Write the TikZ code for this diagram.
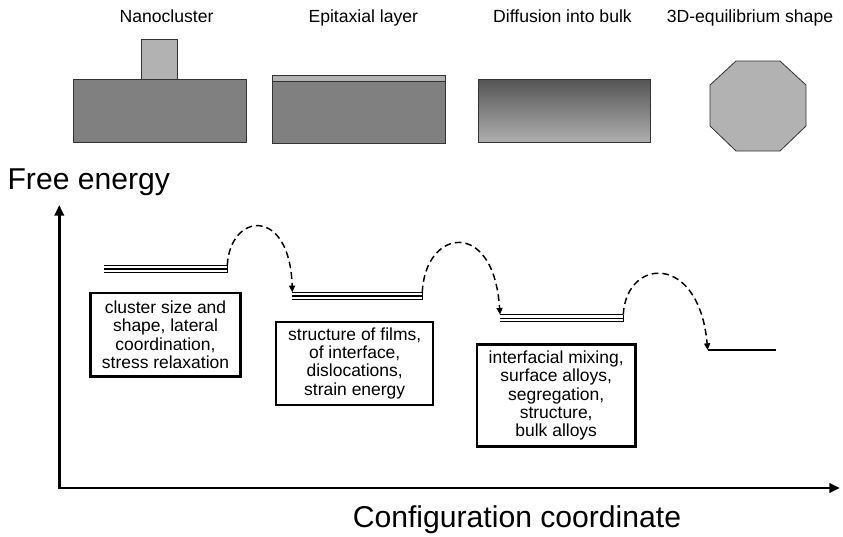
\documentclass[tikz,border=0pt]{standalone}
\usepackage{fontspec}
\setmainfont{Liberation Sans}
\usetikzlibrary{arrows.meta}

\begin{document}
\begin{tikzpicture}[x=.75pt,y=-.75pt,
  heading/.style={font=\fontsize{13.2}{14}\selectfont,anchor=base,inner sep=0pt},
  bigtext/.style={font=\fontsize{22.6}{26}\selectfont,inner sep=0pt},
  bulk/.style={fill=black!50,draw=black!80,line width=.6pt},
  film/.style={fill=black!30,draw=black!80,line width=.6pt},
  infobox/.style={draw,line width=1.7pt,align=center,inner sep=0pt,font=\fontsize{13.1}{13.6}\selectfont},
  levelline/.style={line width=1pt},
  hop/.style={line width=1.1pt,dash pattern=on 5pt off 3pt,-{Triangle[length=5pt,width=4.5pt]}},
  axisline/.style={line width=2.2pt,{Triangle[length=8pt,width=7pt]}-{Triangle[length=8pt,width=7pt]}}]
  \useasboundingbox (0,0) rectangle (843,536);

  % the four sketches along the top
  \node[heading] (nanolbl) at (166.5,22.7) {Nanocluster};
  \node[heading] (epilbl) at (363.3,22.7) {Epitaxial layer};
  \node[heading] (difflbl) at (562.5,22.7) {Diffusion into bulk};
  \node[heading] (eqlbl) at (750,22.7) {3D-equilibrium shape};

  \draw[bulk] (73.3,79) rectangle (246,142.7);
  \draw[film] (141.3,39.3) rectangle (177.7,79);
  \draw[bulk] (272.7,81.7) rectangle (445.3,143);
  \draw[film] (272.7,75) rectangle (445.3,81.7);
  \shade[top color=black!67,bottom color=black!31,draw=black!80,line width=.6pt] (478.3,79) rectangle (650.7,142.7);
  \draw[film] (736,61) -- (780,61) -- (806,85) -- (806,126) -- (780,151) -- (736,151) -- (710,126) -- (710,85) -- cycle;

  % axes
  \coordinate (origin) at (59.3,488);
  \coordinate (ytip) at (59.3,205);
  \coordinate (xtip) at (840,488);
  \draw[axisline] (ytip) -- (origin) -- (xtip);
  \node[bigtext,anchor=base west] (ylbl) at (7.3,189.3) {Free energy};
  \node[bigtext,anchor=base] (xlbl) at (517,527) {Configuration coordinate};

  % energy levels (three thin lines each)
  \foreach \i/\a/\b/\y in {1/104.3/227.3/265.3, 2/292.3/422.3/292.3, 3/500/623.3/314.6} {
    \foreach \d in {0,3.6,7.2}
      \draw[levelline] (\a,\y+\d) -- (\b,\y+\d);
    \draw[levelline] (\b,\y) -- (\b,\y+7.2);
    \coordinate (in\i) at (\a,\y);
    \coordinate (out\i) at (\b,\y);
  }
  \coordinate (in4) at (707.7,350);
  \coordinate (end4) at (776,350);
  \draw[line width=1pt] (in4) -- (end4);

  % hops over the barriers
  \draw[hop] (out1) .. controls +(2.7,-53) and +(-2.3,-86.3) .. (in2);
  \draw[hop] (out2) .. controls +(2.7,-64) and +(-6,-96.6) .. (in3);
  \draw[hop] (out3) .. controls +(2.7,-56.6) and +(-8.7,-98) .. (in4);

  % what happens at each stage
  \node[infobox,minimum width=112.5pt,minimum height=62.8pt] (box1) at (165.5,334.7)
    {cluster size and\\shape, lateral\\coordination,\\stress relaxation};
  \node[infobox,minimum width=117.8pt,minimum height=62.3pt] (box2) at (354.7,363.3)
    {structure of films,\\of interface,\\dislocations,\\strain energy};
  \node[infobox,minimum width=119pt,minimum height=76.5pt] (box3) at (556.2,395.5)
    {interfacial mixing,\\surface alloys,\\segregation,\\structure,\\bulk alloys};
\end{tikzpicture}
\end{document}
